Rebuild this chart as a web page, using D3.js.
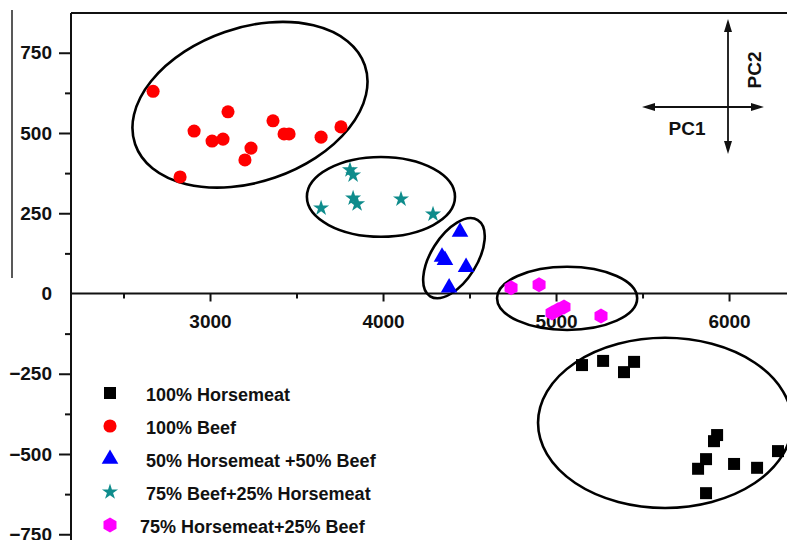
<!DOCTYPE html>
<html>
<head>
<meta charset="utf-8">
<script src="https://cdn.jsdelivr.net/npm/d3@7"></script>
<style>
  body { margin: 0; background: #fff; }
  svg { display: block; }
  text { font-family: Arial, "Liberation Sans", sans-serif; font-weight: bold; fill: #111; }
</style>
</head>
<body>
<div id="chart"></div>
<script>
// PC1 / PC2 scores
const horsemeat = [[5150,-223],[5272,-210],[5393,-245],[5451,-213],[5931,-441],[5913,-460],
  [5867,-516],[5821,-546],[6029,-531],[6162,-543],[6283,-491],[5867,-622]];
const beef = [[2671,630],[2827,363],[2908,506],[3012,475],[3075,481],[3104,566],[3202,416],
  [3237,453],[3364,538],[3428,497],[3457,497],[3642,487],[3757,519]];
const mix5050 = [[4445,192],[4341,114],[4358,104],[4480,82],[4382,18]];
const beef75 = [[3642,266],[3809,385],[3827,369],[3827,297],[3850,279],[4104,294],[4289,247]];
const horse75 = [[4740,18],[4902,27],[4977,-61],[5012,-51],[5046,-42],[5260,-70]];

const groupNames = ["100% Horsemeat", "100% Beef", "50% Horsemeat +50% Beef",
  "75% Beef+25% Horsemeat", "75% Horsemeat+25% Beef"];

// group ellipses: centre, semi axes (x units, y units), tilt in degrees
const ellipseCx = [5630, 3231, 4410, 3988, 5064];
const ellipseCy = [-403, 588, 110, 301, -15];
const ellipseRx = [734, 702, 133, 428, 405];
const ellipseRy = [265, 240, 140, 124, 98.5];
const ellipseTilt = [0, -19, 32, 0, 0];

const xMajor = [3000, 4000, 5000, 6000];
const xMinor = [2500, 3500, 4500, 5500];
const yMajor = [750, 500, 250, 0, -250, -500, -750];
const yMinor = [625, 375, 125, -125, -375, -625];

const width = 787, height = 540;
const svg = d3.select("#chart").append("svg")
  .attr("width", width).attr("height", height);

const x = d3.scaleLinear().domain([2196.5, 6335]).range([71, 787]);
const y = d3.scaleLinear().domain([873.8, -767.9]).range([13, 540]);

const hexagon = r => {
  const pts = d3.range(6).map(k => {
    const a = (-90 + 60 * k) * Math.PI / 180;
    return [r * Math.cos(a), r * Math.sin(a)];
  });
  return "M" + pts.join("L") + "Z";
};

const styles = [
  {data: horsemeat, fill: "#000", path: d3.symbol(d3.symbolSquare, 144)()},
  {data: beef, fill: "#ff0000", path: d3.symbol(d3.symbolCircle, 135)()},
  {data: mix5050, fill: "#0000ff", path: d3.symbol(d3.symbolTriangle, 120)()},
  {data: beef75, fill: "#0e8c8c", path: d3.symbol(d3.symbolStar, 80)()},
  {data: horse75, fill: "#ff00ff", path: hexagon(7.5)}
];

// stray frame line at far left
svg.append("line").attr("x1", 12).attr("x2", 12).attr("y1", 10).attr("y2", 278)
  .attr("stroke", "#222").attr("stroke-width", 1.5);

// top frame
svg.append("line").attr("x1", 71).attr("x2", 787).attr("y1", 13).attr("y2", 13)
  .attr("stroke", "#111").attr("stroke-width", 2);

// y axis
const yAxis = svg.append("g").attr("transform", "translate(71,0)")
  .call(d3.axisLeft(y).tickValues(yMajor).tickSize(12).tickPadding(7).tickFormat(d3.format("d")));
svg.append("g").attr("transform", "translate(71,0)")
  .call(d3.axisLeft(y).tickValues(yMinor).tickSize(6).tickFormat(""))
  .call(g => g.select(".domain").remove());
yAxis.select(".domain").attr("d", `M0,${y.range()[0]}V${y.range()[1]}`);

// x axis through zero
const xAxis = svg.append("g").attr("transform", `translate(0,${y(0)})`)
  .call(d3.axisBottom(x).tickValues(xMajor).tickSize(8).tickPadding(13).tickFormat(d3.format("d")));
svg.append("g").attr("transform", `translate(0,${y(0)})`)
  .call(d3.axisBottom(x).tickValues(xMinor).tickSize(5).tickFormat(""))
  .call(g => g.select(".domain").remove());
xAxis.select(".domain").attr("d", `M${x.range()[0]},0H${x.range()[1]}`);

svg.selectAll(".domain, .tick line").attr("stroke", "#111").attr("stroke-width", 2);
svg.selectAll(".tick text").attr("font-size", 19).attr("fill", "#111")
  .style("font-family", "Arial, 'Liberation Sans', sans-serif").style("font-weight", "bold");
yAxis.selectAll(".tick").filter(d => d === 0).select("line").remove();

// ellipses
svg.append("g").selectAll("ellipse")
  .data(ellipseCx.map((c, i) => i))
  .join("ellipse")
  .attr("transform", i => `translate(${x(ellipseCx[i])},${y(ellipseCy[i])}) rotate(${ellipseTilt[i]})`)
  .attr("rx", i => x(ellipseCx[i] + ellipseRx[i]) - x(ellipseCx[i]))
  .attr("ry", i => y(ellipseCy[i] - ellipseRy[i]) - y(ellipseCy[i]))
  .attr("fill", "none").attr("stroke", "#000").attr("stroke-width", 2.6);

// points
styles.forEach(s => {
  svg.append("g").selectAll("path")
    .data(s.data)
    .join("path")
    .attr("d", s.path)
    .attr("transform", d => `translate(${x(d[0])},${y(d[1])})`)
    .attr("fill", s.fill);
});

// legend
const legend = svg.append("g");
styles.forEach((s, i) => {
  const cy = 393 + i * 33;
  legend.append("path").attr("d", s.path)
    .attr("transform", `translate(110,${cy})`).attr("fill", s.fill);
  legend.append("text").attr("x", i === 4 ? 140 : 146).attr("y", cy + 8)
    .attr("font-size", 18).text(groupNames[i]);
});

// PC direction arrows
const arrows = svg.append("g").attr("fill", "#111").attr("stroke", "#111");
arrows.append("line").attr("x1", 650).attr("x2", 756).attr("y1", 107).attr("y2", 107).attr("stroke-width", 1.8);
arrows.append("line").attr("x1", 728).attr("x2", 728).attr("y1", 27).attr("y2", 146).attr("stroke-width", 1.8);
arrows.append("path").attr("stroke", "none").attr("d", "M642,107L655,103L655,111Z");
arrows.append("path").attr("stroke", "none").attr("d", "M764,107L751,103L751,111Z");
arrows.append("path").attr("stroke", "none").attr("d", "M728,19L724,32L732,32Z");
arrows.append("path").attr("stroke", "none").attr("d", "M728,154L724,141L732,141Z");
svg.append("text").attr("x", 687).attr("y", 135).attr("text-anchor", "middle")
  .attr("font-size", 19).text("PC1");
svg.append("text").attr("transform", "translate(761,70) rotate(-90)")
  .attr("text-anchor", "middle").attr("font-size", 19).text("PC2");
</script>
</body>
</html>
